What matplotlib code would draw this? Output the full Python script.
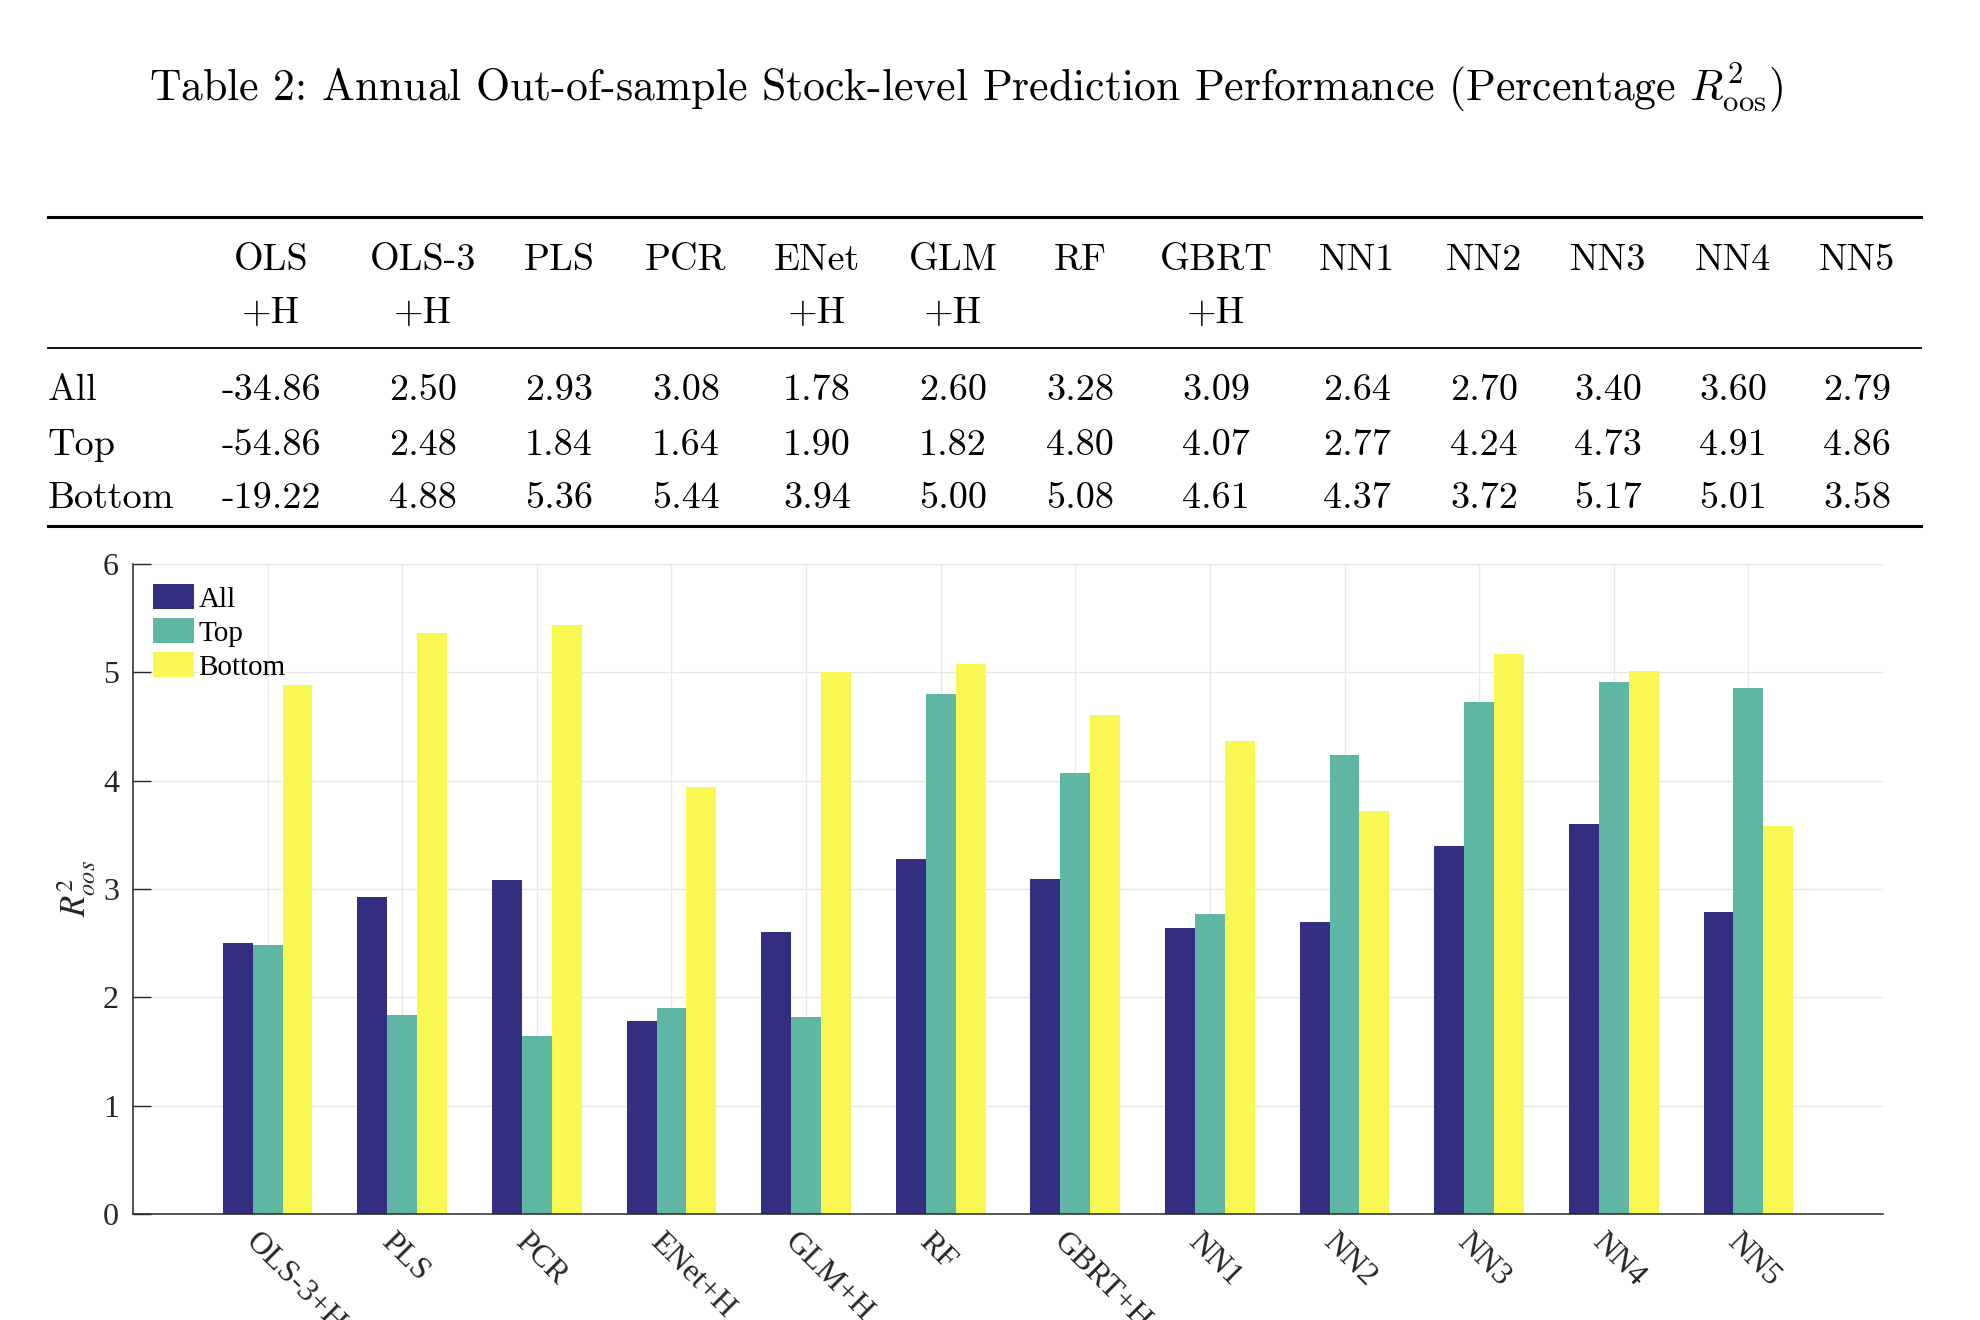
import numpy as np
import matplotlib.pyplot as plt
import matplotlib.transforms as mtransforms
from matplotlib.lines import Line2D

# --- data (table + bar chart) ---
MODELS = ["OLS", "OLS-3", "PLS", "PCR", "ENet", "GLM", "RF", "GBRT",
          "NN1", "NN2", "NN3", "NN4", "NN5"]
PLUS_H = [True, True, False, False, True, True, False, True,
          False, False, False, False, False]
ROW_NAMES = ["All", "Top", "Bottom"]
ALL = [-34.86, 2.50, 2.93, 3.08, 1.78, 2.60, 3.28, 3.09, 2.64, 2.70, 3.40, 3.60, 2.79]
TOP = [-54.86, 2.48, 1.84, 1.64, 1.90, 1.82, 4.80, 4.07, 2.77, 4.24, 4.73, 4.91, 4.86]
BOTTOM = [-19.22, 4.88, 5.36, 5.44, 3.94, 5.00, 5.08, 4.61, 4.37, 3.72, 5.17, 5.01, 3.58]
Y_TICKS = [0, 1, 2, 3, 4, 5, 6]

COLORS = ["#332e80", "#5fb6a2", "#f9f852"]
TXT = "#262626"

# --- layout (pixels of the 1980x1320 canvas) ---
W, H = 1980, 1320
COL_X = [271, 423, 559, 686, 817, 953, 1080, 1216, 1357, 1484, 1608, 1733, 1857]
RULE_X = (48, 1921)


def fx(px):
    return px / W


def fy(py):
    return 1 - py / H


fig = plt.figure(figsize=(W / 100, H / 100), dpi=100)

# title
fig.text(fx(966), fy(100),
         r"Table 2: Annual Out-of-sample Stock-level Prediction Performance (Percentage $R^2_{\mathrm{oos}}$)",
         ha="center", va="baseline", family="cmr10", fontsize=31.5, math_fontfamily="cm")

# table rules
for y, lw in [(217, 2.2), (348, 1.3), (526, 2.2)]:
    fig.add_artist(Line2D([fx(RULE_X[0]), fx(RULE_X[1])], [fy(y), fy(y)],
                          transform=fig.transFigure, color="black", lw=lw))

tkw = dict(va="baseline", family="cmr10", fontsize=27.5)
for cx, name, h in zip(COL_X, MODELS, PLUS_H):
    fig.text(fx(cx), fy(270), name, ha="center", **tkw)
    if h:
        fig.text(fx(cx), fy(323), "+H", ha="center", **tkw)

for rname, vals, yb in zip(ROW_NAMES, [ALL, TOP, BOTTOM], [400, 455, 508]):
    fig.text(fx(RULE_X[0]), fy(yb), rname, ha="left", **tkw)
    for cx, v in zip(COL_X, vals):
        fig.text(fx(cx), fy(yb), f"{v:.2f}", ha="center", **tkw)

# --- bar chart (without OLS+H) ---
labels = [m + ("+H" if h else "") for m, h in zip(MODELS, PLUS_H)][1:]
series = [ALL[1:], TOP[1:], BOTTOM[1:]]

ax = fig.add_axes([fx(133), fy(1214), fx(1883 - 133), (1214 - 564) / H])
x = np.arange(1, len(labels) + 1)
bw = 0.222
for k, (vals, name, c) in enumerate(zip(series, ROW_NAMES, COLORS)):
    ax.bar(x + (k - 1) * bw, vals, width=bw, color=c, label=name, linewidth=0)

ax.set_xlim(0, 13)
ax.set_ylim(0, 6)
ax.set_yticks(Y_TICKS)
ax.set_xticks(x)
ax.set_xticklabels(labels, rotation=-45, ha="left", va="top", rotation_mode="anchor")
for lab in ax.get_xticklabels() + ax.get_yticklabels():
    lab.set_family("Liberation Serif")
    lab.set_fontsize(23)
ax.tick_params(direction="in", length=13, width=1, color=TXT, labelcolor=TXT, pad=10)

# nudge rotated labels a little to the left
shift = mtransforms.ScaledTranslation(-7 / 100, 0, fig.dpi_scale_trans)
for lab in ax.get_xticklabels():
    lab.set_transform(lab.get_transform() + shift)

for s in ["top", "right"]:
    ax.spines[s].set_visible(False)
for s in ["left", "bottom"]:
    ax.spines[s].set_color(TXT)
    ax.spines[s].set_linewidth(1.1)

ax.grid(True, color="#e8e8e8", lw=1)
ax.set_axisbelow(True)

ax.set_ylabel(r"$R^2_{oos}$", fontsize=25, math_fontfamily="stix", color=TXT, labelpad=4)

ax.legend(loc="upper left", frameon=False,
          prop={"family": "Liberation Serif", "size": 21},
          handlelength=1.4, handleheight=0.9, handletextpad=0.15,
          labelspacing=0.2, borderaxespad=0.7, borderpad=0)

fig.savefig("out.png", dpi=100)
